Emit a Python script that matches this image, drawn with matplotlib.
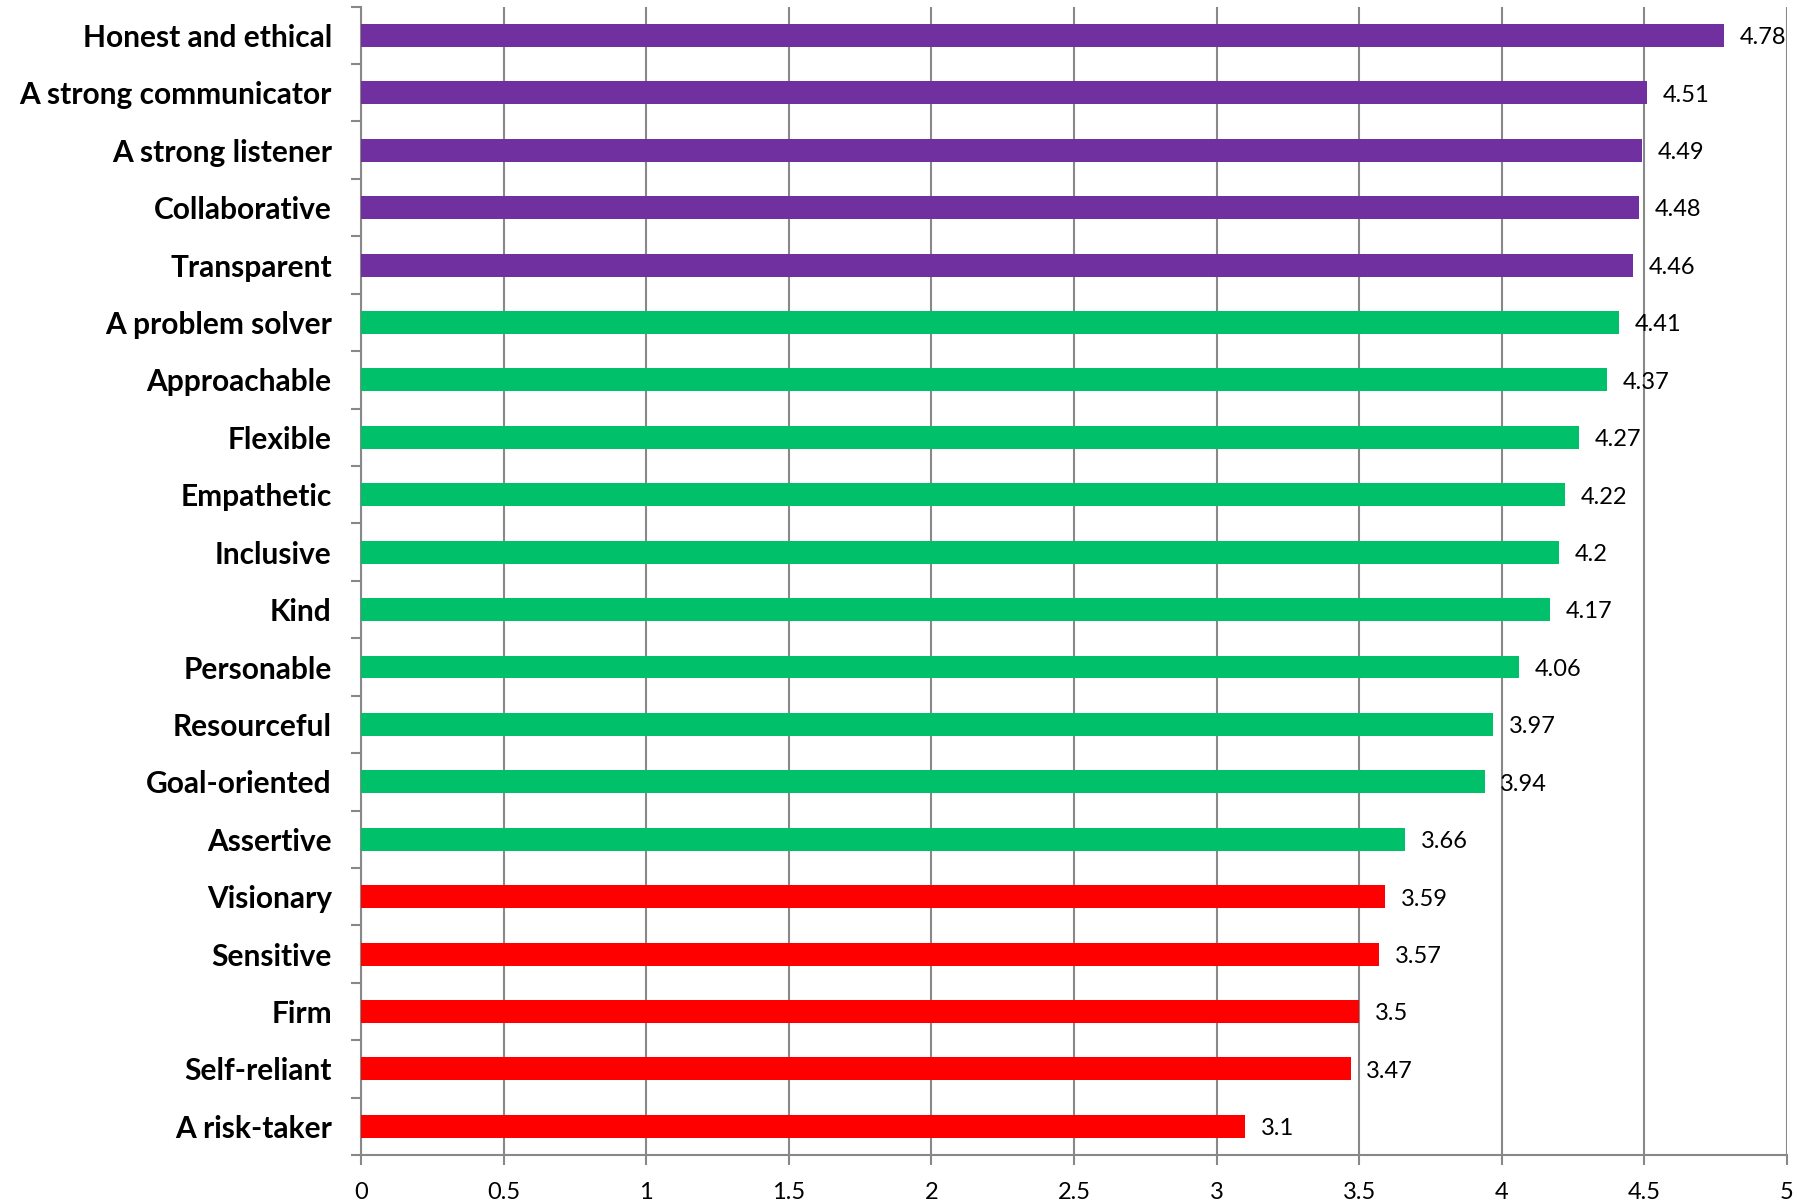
import numpy as np
import matplotlib.pyplot as plt

labels = ['Honest and ethical', 'A strong communicator', 'A strong listener',
          'Collaborative', 'Transparent', 'A problem solver', 'Approachable',
          'Flexible', 'Empathetic', 'Inclusive', 'Kind', 'Personable',
          'Resourceful', 'Goal-oriented', 'Assertive', 'Visionary',
          'Sensitive', 'Firm', 'Self-reliant', 'A risk-taker']
values = [4.78, 4.51, 4.49, 4.48, 4.46, 4.41, 4.37, 4.27, 4.22, 4.2,
          4.17, 4.06, 3.97, 3.94, 3.66, 3.59, 3.57, 3.5, 3.47, 3.1]
groups = ['top'] * 5 + ['mid'] * 10 + ['low'] * 5
group_colors = {'top': '#7030A0', 'mid': '#00C06A', 'low': '#FF0000'}

plt.rcParams['font.family'] = ['Lato', 'DejaVu Sans']

fig = plt.figure(figsize=(18.02, 12.02), dpi=100)
ax = fig.add_axes([0.2003, 0.039, 0.7914, 0.9555])

y = np.arange(len(labels))
colors = [group_colors[g] for g in groups]
ax.barh(y, values, height=0.4, color=colors, zorder=3)

for yi, v in zip(y, values):
    ax.text(v + 0.055, yi + 0.04, f'{v:g}', va='center', ha='left', fontsize=17, zorder=4)

ax.set_xlim(0, 5)
ax.set_ylim(len(labels) - 0.5, -0.5)
ax.set_xticks(np.arange(0, 5.01, 0.5))
ax.set_xticklabels([f'{t:g}' for t in np.arange(0, 5.01, 0.5)], fontsize=17)
ax.set_yticks(y)
ax.set_yticklabels(labels, fontsize=21.5, fontweight='bold')
ax.set_yticks(np.arange(-0.5, len(labels)), minor=True)

ax.tick_params(axis='y', which='major', length=0, pad=21)
ax.tick_params(axis='y', which='minor', length=7, color='#888888', width=1.5)
ax.tick_params(axis='x', length=7, color='#888888', width=1.5, pad=12)

ax.grid(axis='x', color='#888888', linewidth=1.5, zorder=0)
for s in ['top', 'right']:
    ax.spines[s].set_visible(False)
for s in ['left', 'bottom']:
    ax.spines[s].set_color('#888888')
    ax.spines[s].set_linewidth(1.5)

plt.savefig('out.png', dpi=100)
